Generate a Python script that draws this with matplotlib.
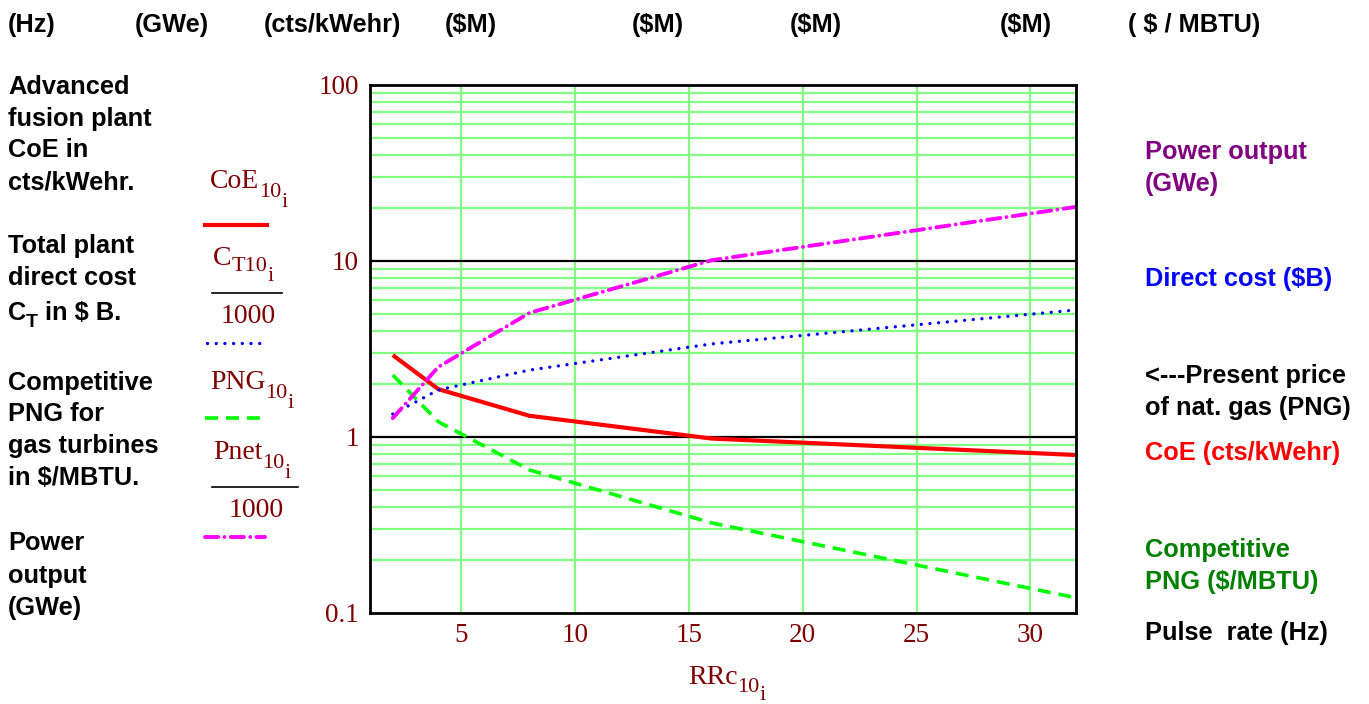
import matplotlib
matplotlib.use("Agg")
import matplotlib.pyplot as plt
from matplotlib.transforms import IdentityTransform
import numpy as np

# ---- data ----
pulse_rate = [2, 4, 8, 16, 32]
coe = [2.92, 1.87, 1.32, 0.98, 0.79]          # cts/kWehr
ct_b = [1.35, 1.85, 2.40, 3.38, 5.27]          # $B  (CT/1000)
png = [2.25, 1.22, 0.65, 0.325, 0.122]         # $/MBTU
pnet_gw = [1.28, 2.50, 5.07, 10.1, 20.3]       # GWe (Pnet/1000)
xticks = [5, 10, 15, 20, 25, 30]
yticks = [0.1, 1, 10, 100]
ytick_labels = ["0.1", "1", "10", "100"]
top_labels = ["(Hz)", "(GWe)", "(cts/kWehr)", "($M)", "($M)", "($M)", "($M)", "( $ / MBTU)"]

W, H = 1369, 704
fig = plt.figure(figsize=(W / 100, H / 100), dpi=100)
renderer = fig.canvas.get_renderer()
ID = IdentityTransform()

SERIF = "Liberation Serif"
SANS = "Liberation Sans"
DARKRED = "#800000"
SANS_FS = 18.3
MAIN_FS = 20
SUB_FS = 16

ax = fig.add_axes([370 / W, (H - 613) / H, (1076 - 370) / W, (613 - 85) / H])
ax.set_yscale("log")
ax.set_xlim(1, 32)
ax.set_ylim(0.1, 100)

# grid
for dec in [0.1, 1, 10]:
    for m in range(2, 10):
        ax.axhline(dec * m, color="#80ff80", lw=1.6, zorder=1)
for xv in xticks:
    ax.axvline(xv, color="#80ff80", lw=1.6, zorder=1)
for yv in [1, 10]:
    ax.axhline(yv, color="black", lw=1.6, zorder=2)

ax.plot(pulse_rate, coe, color="#ff0000", lw=3.0, solid_capstyle="butt", zorder=5)
ax.plot(pulse_rate, ct_b, color="#0000ff", lw=2.4, linestyle=(0, (0.01, 2.6)),
        dash_capstyle="round", zorder=5)
ax.plot(pulse_rate, png, color="#00ff00", lw=2.6, linestyle=(0, (3.6, 2.2)),
        dash_capstyle="butt", zorder=5)
ax.plot(pulse_rate, pnet_gw, color="#ff00ff", lw=2.8, linestyle=(0, (3.4, 1.6, 0.01, 1.6)),
        dash_capstyle="round", zorder=5)

ax.set_xticks(xticks)
ax.set_xticklabels([str(v) for v in xticks], fontfamily=SERIF, fontsize=19.5, color=DARKRED)
ax.set_yticks(yticks)
ax.set_yticklabels(ytick_labels, fontfamily=SERIF, fontsize=19.5, color=DARKRED)
ax.yaxis.set_minor_locator(matplotlib.ticker.NullLocator())
ax.tick_params(axis="y", length=0, pad=8)
ax.tick_params(axis="x", length=0, pad=7)
for s in ax.spines.values():
    s.set_linewidth(2.0)
    s.set_zorder(6)


def T(x, y, s, **kw):
    """text in pixel coords, y measured from top"""
    kw.setdefault("transform", ID)
    return fig.text(x, H - y, s, **kw)


def compose(x, y, parts, color=DARKRED):
    """parts: list of (text, fontsize, dy_px_down); y is baseline from top"""
    cx = x
    for s, fs, dy in parts:
        t = T(cx, y + dy, s, fontfamily=SERIF, fontsize=fs, color=color, va="baseline", ha="left")
        cx += t.get_window_extent(renderer).width
    return cx


# top row labels
top_x = [8, 135, 264, 445, 632, 790, 1000, 1128]
for xx, lab in zip(top_x, top_labels):
    T(xx, 25, lab.replace("$", r"\$"), fontfamily=SANS, fontweight="bold", fontsize=SANS_FS,
      va="center", ha="left")

# left description block
left_lines = [
    ("Advanced", 87), ("fusion plant", 119), ("CoE in", 150), ("cts/kWehr.", 182),
    ("Total plant", 246), ("direct cost", 278),
    ("Competitive", 383), ("PNG for", 414), ("gas turbines", 446), ("in $/MBTU.", 478),
    ("Power", 543), ("output", 576), ("(GWe)", 608),
]
for s, yy in left_lines:
    T(8, yy, s.replace("$", r"\$"), fontfamily=SANS, fontweight="bold", fontsize=SANS_FS,
      va="center", ha="left")
t = T(8, 320, "C", fontfamily=SANS, fontweight="bold", fontsize=SANS_FS, va="baseline", ha="left")
cx = 8 + t.get_window_extent(renderer).width
t = T(cx, 327, "T", fontfamily=SANS, fontweight="bold", fontsize=14, va="baseline", ha="left")
cx += t.get_window_extent(renderer).width
T(cx, 320, r" in \$ B.", fontfamily=SANS, fontweight="bold", fontsize=SANS_FS, va="baseline", ha="left")

# legend block
compose(210, 188, [("CoE", MAIN_FS, 0), ("10", SUB_FS, 9), ("i", SUB_FS, 19)])
fig.add_artist(plt.Line2D([205, 267], [H - 225, H - 225], transform=ID, color="#ff0000", lw=3.0))

compose(213, 265, [("C", MAIN_FS, 0), ("T10", SUB_FS, 6), ("i", SUB_FS, 16)])
fig.add_artist(plt.Line2D([212, 282], [H - 293, H - 293], transform=ID, color="black", lw=1.2))
T(248, 323, "1000", fontfamily=SERIF, fontsize=MAIN_FS, color=DARKRED, va="baseline", ha="center")
fig.add_artist(plt.Line2D([207, 265], [H - 343, H - 343], transform=ID, color="#0000ff", lw=2.4,
                          linestyle=(0, (0.01, 2.6)), dash_capstyle="round"))

compose(210, 389, [("PNG", MAIN_FS, 0), ("10", SUB_FS, 9), ("i", SUB_FS, 19)])
fig.add_artist(plt.Line2D([205, 265], [H - 418, H - 418], transform=ID, color="#00ff00", lw=2.6,
                          linestyle=(0, (3.6, 2.2))))

compose(213, 459, [("Pnet", MAIN_FS, 0), ("10", SUB_FS, 9), ("i", SUB_FS, 19)])
fig.add_artist(plt.Line2D([212, 298], [H - 487, H - 487], transform=ID, color="black", lw=1.2))
T(256, 517, "1000", fontfamily=SERIF, fontsize=MAIN_FS, color=DARKRED, va="baseline", ha="center")
fig.add_artist(plt.Line2D([205, 265], [H - 537, H - 537], transform=ID, color="#ff00ff", lw=2.8,
                          linestyle=(0, (3.4, 1.6, 0.01, 1.6)), dash_capstyle="round"))

# x axis label
compose(688, 684, [("RRc", MAIN_FS, 0), ("10", SUB_FS, 8), ("i", SUB_FS, 16)])

# right labels
right = [
    ("Power output", 152, "#800080"), ("(GWe)", 184, "#800080"),
    ("Direct cost ($B)", 279, "#0000ff"),
    ("<---Present price", 376, "black"), ("of nat. gas (PNG)", 408, "black"),
    ("CoE (cts/kWehr)", 453, "#ff0000"),
    ("Competitive", 550, "#008000"), ("PNG ($/MBTU)", 582, "#008000"),
    ("Pulse  rate (Hz)", 633, "black"),
]
for s, yy, c in right:
    T(1145, yy, s.replace("$", r"\$"), fontfamily=SANS, fontweight="bold", fontsize=SANS_FS,
      color=c, va="center", ha="left")

fig.savefig("out.png", dpi=100)
